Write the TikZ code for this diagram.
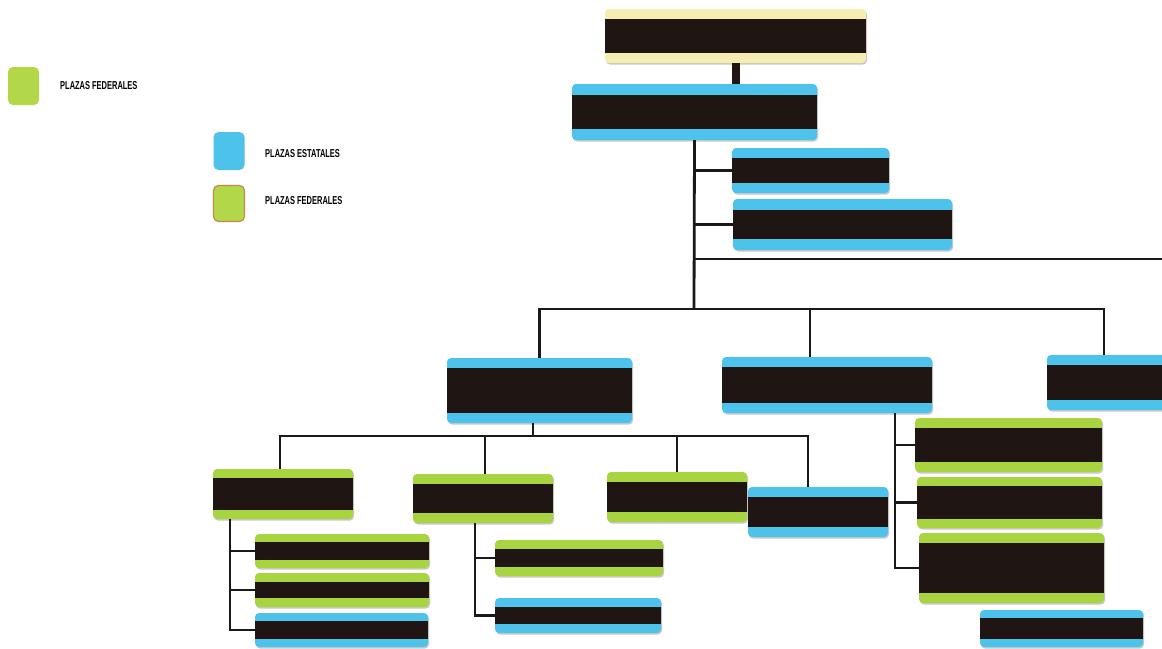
\documentclass[tikz,border=0pt]{standalone}
\usepackage{fontspec}
\setmainfont{Liberation Sans}
\usetikzlibrary{shadows}
\definecolor{cy}{HTML}{4DC3EC}
\definecolor{gr}{HTML}{A8D440}
\definecolor{yl}{HTML}{F6EDB0}
\definecolor{bk}{HTML}{1F1513}
\definecolor{lgr}{HTML}{B2D84A}
\definecolor{lbr}{HTML}{C8884A}
\tikzset{
  band/.store in=\bandw, band=10,
  obox/.style={rectangle, rounded corners=4pt, inner sep=0pt, fill=#1,
    drop shadow={shadow xshift=1pt, shadow yshift=-1.5pt, opacity=.3, fill=black!70},
    path picture={\fill[bk, sharp corners] ([yshift=-\bandw pt]path picture bounding box.north west)
      rectangle ([yshift=\bandw pt]path picture bounding box.south east);}},
  ln/.style={line width=2.8pt, black!90},
  legbox/.style={rectangle, rounded corners=5pt, inner sep=0pt, minimum width=31pt, minimum height=38pt},
  legtxt/.style={font=\bfseries\fontsize{11.5}{11.5}\selectfont, anchor=west, inner sep=0pt}
}
\newcommand\bx[7][10]{\node[obox=#7, band=#1, minimum width={(#5-#3)*1pt}, minimum height={(#6-#4)*1pt}] (#2) at ({(#3+#5)/2},{(#4+#6)/2}) {};}
\begin{document}
\begin{tikzpicture}[x=1pt,y=-1pt]
\useasboundingbox (0,0) rectangle (1162,648);
\clip (0,0) rectangle (1162,648);
\fill[white] (0,0) rectangle (1162,648);

% legend
\node[legbox, fill=lgr] (l1) at (23.5,86) {};
\node[legtxt] (lt1) at (60,86) {\scalebox{0.65}[1]{PLAZAS FEDERALES}};
\node[legbox, fill=cy] (l2) at (229,151) {};
\node[legtxt] (lt2) at (265,154) {\scalebox{0.65}[1]{PLAZAS ESTATALES}};
\node[legbox, fill=lgr, draw=lbr, line width=1.2pt, minimum height=36pt] (l3) at (229,203.5) {};
\node[legtxt] (lt3) at (265,201) {\scalebox{0.65}[1]{PLAZAS FEDERALES}};

% boxes
\bx{top}{605}{9}{866}{63}{yl}
\bx[11]{b2}{572}{84}{817}{140}{cy}
\bx{b3}{732}{148}{889}{193}{cy}
\bx[11]{b4}{733}{199}{952}{250}{cy}
\bx{b5}{447}{358}{632}{423}{cy}
\bx{b6}{722}{357}{932}{413}{cy}
\bx{b7}{1047}{355}{1180}{410}{cy}
\bx[9]{c1}{213}{469}{353}{519}{gr}
\bx{c2}{413}{474}{553}{523}{gr}
\bx{c3}{607}{472}{747}{522}{gr}
\bx{c4}{748}{487}{888}{537}{cy}
\bx[8]{d1}{255}{534}{429}{568}{gr}
\bx[9]{d2}{255}{573}{429}{607}{gr}
\bx[8]{d3}{255}{613}{428}{647}{cy}
\bx[9]{e1}{495}{540}{663}{576}{gr}
\bx[9]{e2}{495}{598}{661}{633}{cy}
\bx{f1}{915}{418}{1102}{472}{gr}
\bx[9]{f2}{917}{477}{1102}{528}{gr}
\bx{f3}{919}{533}{1104}{603}{gr}
\bx[8]{f4}{980}{610}{1143}{647}{cy}

% connectors
\draw[line width=8pt, bk] (top.south) -- (top.south |- b2.north);
\coordinate (j1) at (694,309);
\draw[ln] (b2.south) -- (j1);
\draw[ln] (b2.south |- b3.west) -- (b3.west);
\draw[ln] (b2.south |- b4.west) -- (b4.west);
\coordinate (r1) at (1162,259);
\draw[ln] (b2.south |- r1) -- (r1);
\coordinate (j2) at (810,309);
\coordinate (j3) at (1104,309);
\draw[ln] (b5.north) -- (b5.north |- j1) -- (j3) -- (j3 |- b7.north);
\draw[ln] (j2) -- (j2 |- b6.north);

\coordinate (k0) at (280,436);
\coordinate (k1) at (533,436);
\coordinate (k2) at (485,436);
\coordinate (k3) at (677,436);
\coordinate (k4) at (808,436);
\draw[ln] (k1 |- b5.south) -- (k1);
\draw[ln] (k0 |- c1.north) -- (k0) -- (k4) -- (k4 |- c4.north);
\draw[ln] (k2) -- (k2 |- c2.north);
\draw[ln] (k3) -- (k3 |- c3.north);

\coordinate (m1) at (230,519);
\draw[ln] (m1) -- (m1 |- d3.west) -- (d3.west);
\draw[ln] (m1 |- d1.west) -- (d1.west);
\draw[ln] (m1 |- d2.west) -- (d2.west);

\coordinate (n1) at (475,523);
\draw[ln] (n1) -- (n1 |- e2.west) -- (e2.west);
\draw[ln] (n1 |- e1.west) -- (e1.west);

\coordinate (p1) at (895,413);
\draw[ln] (p1) -- (p1 |- f3.west) -- (f3.west);
\draw[ln] (p1 |- f1.west) -- (f1.west);
\draw[ln] (p1 |- f2.west) -- (f2.west);
\end{tikzpicture}
\end{document}
